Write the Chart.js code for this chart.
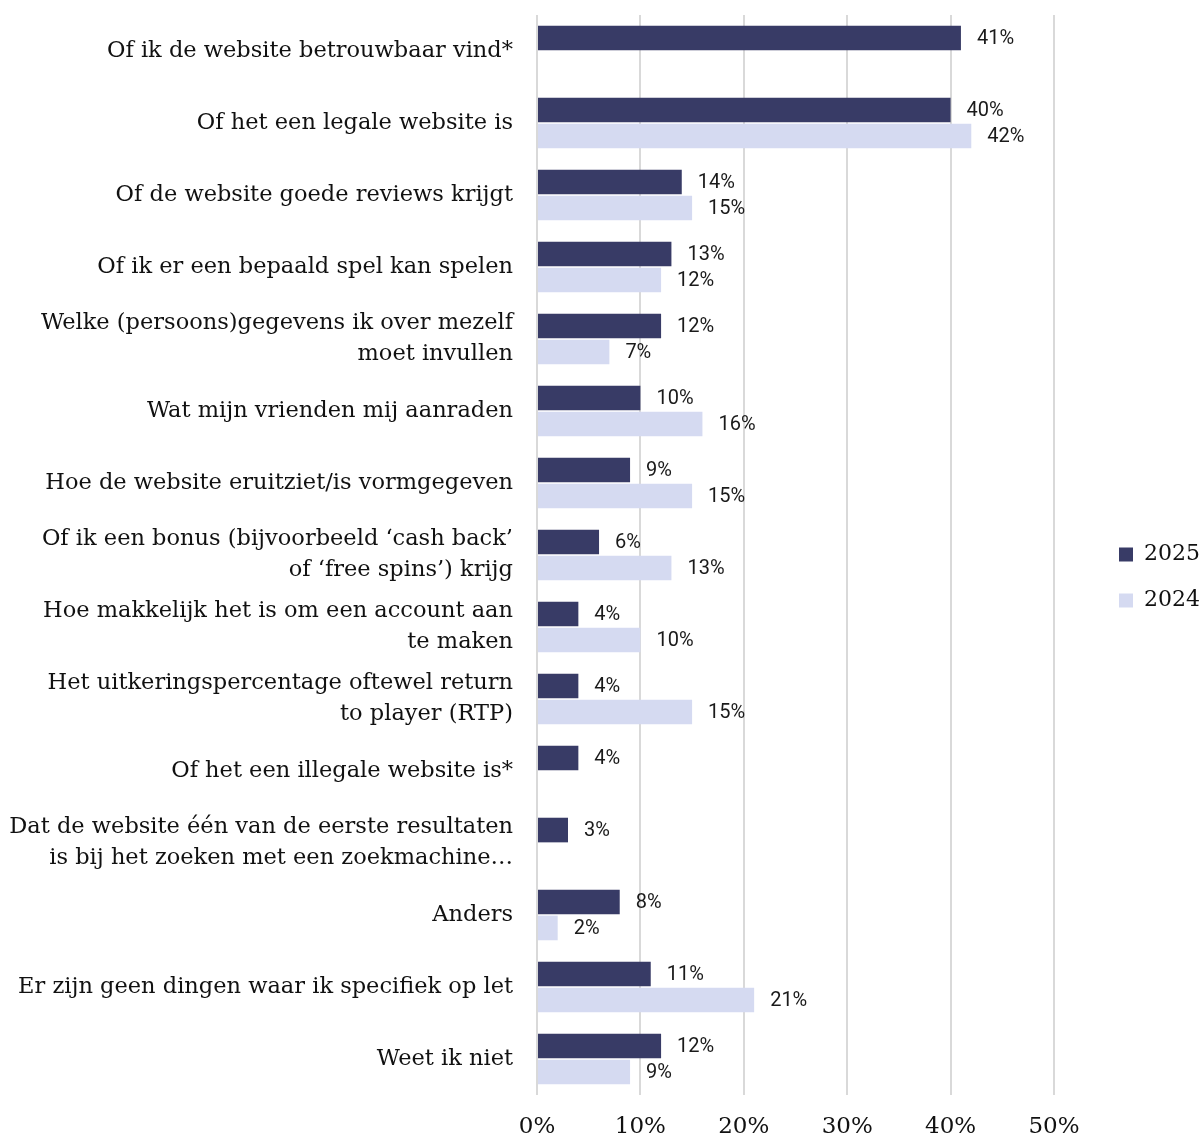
<!DOCTYPE html>
<html lang="nl">
<head>
<meta charset="utf-8">
<title>Waar let je op bij het kiezen van een website</title>
<script src="https://cdn.jsdelivr.net/npm/chart.js@4.4.1/dist/chart.umd.min.js"></script>
<style>
  html, body { margin: 0; padding: 0; background: #fff; }
  #wrap { width: 1204px; height: 1140px; position: relative; }
</style>
</head>
<body>
<div id="wrap"><canvas id="chart"></canvas></div>
<script>
// ── Data ─────────────────────────────────────────────────────────
const categories = [
  'Of ik de website betrouwbaar vind*',
  'Of het een legale website is',
  'Of de website goede reviews krijgt',
  'Of ik er een bepaald spel kan spelen',
  ['Welke (persoons)gegevens ik over mezelf', 'moet invullen'],
  'Wat mijn vrienden mij aanraden',
  'Hoe de website eruitziet/is vormgegeven',
  ['Of ik een bonus (bijvoorbeeld \u2018cash back\u2019', 'of \u2018free spins\u2019) krijg'],
  ['Hoe makkelijk het is om een account aan', 'te maken'],
  ['Het uitkeringspercentage oftewel return', 'to player (RTP)'],
  'Of het een illegale website is*',
  ['Dat de website één van de eerste resultaten', 'is bij het zoeken met een zoekmachine…'],
  'Anders',
  'Er zijn geen dingen waar ik specifiek op let',
  'Weet ik niet'
];
const values2025 = [41, 40, 14, 13, 12, 10, 9, 6, 4, 4, 4, 3, 8, 11, 12];
const values2024 = [null, 42, 15, 12, 7, 16, 15, 13, 10, 15, null, null, 2, 21, 9];
const xTicks = [0, 10, 20, 30, 40, 50];

const SERIF = '"DejaVu Serif", serif';

// ── Value labels next to each bar ───────────────────────────────
const barLabels = {
  id: 'barLabels',
  afterDatasetsDraw(chart) {
    const ctx = chart.ctx;
    ctx.save();
    ctx.font = '20px Roboto, sans-serif';
    ctx.fillStyle = '#1a1a1a';
    ctx.textAlign = 'left';
    ctx.textBaseline = 'middle';
    chart.data.datasets.forEach((ds, i) => {
      chart.getDatasetMeta(i).data.forEach((bar, j) => {
        const v = ds.data[j];
        if (v === null || v === undefined) return;
        ctx.fillText(v + '%', bar.x + 16, bar.y + 1);
      });
    });
    ctx.restore();
  }
};

// ── Push the legend out towards the right edge of the canvas ────
const legendShift = {
  id: 'legendShift',
  afterLayout(chart) {
    const lg = chart.legend;
    if (!lg) return;
    const dx = (chart.width - 109) - lg.left;
    lg.left += dx;
    lg.right += dx;
  }
};

new Chart(document.getElementById('chart'), {
  type: 'bar',
  data: {
    labels: categories,
    datasets: [
      {
        label: '2025',
        data: values2025,
        backgroundColor: '#383b66',
        barPercentage: 0.95,
        categoryPercentage: 0.72
      },
      {
        label: '2024',
        data: values2024,
        backgroundColor: '#d5daf1',
        barPercentage: 0.95,
        categoryPercentage: 0.72
      }
    ]
  },
  options: {
    indexAxis: 'y',
    responsive: true,
    maintainAspectRatio: false,
    animation: false,
    layout: { padding: { top: 15, right: 0, left: 4, bottom: 0 } },
    plugins: {
      legend: {
        position: 'right',
        maxWidth: 104,
        labels: {
          boxWidth: 14,
          boxHeight: 14,
          padding: 24,
          color: '#111',
          font: { family: SERIF, size: 22 }
        }
      },
      tooltip: { enabled: false }
    },
    scales: {
      x: {
        min: 0,
        max: 50,
        afterBuildTicks: s => { s.ticks = xTicks.map(v => ({ value: v })); },
        afterFit: s => {
          s.paddingRight = 150;
          s.height = 45;
        },
        grid: { color: '#d9d9d9', lineWidth: 2, drawTicks: false },
        border: { display: false },
        ticks: {
          padding: 21,
          color: '#111',
          font: { family: SERIF, size: 23, lineHeight: 1 },
          callback: v => v + '%'
        }
      },
      y: {
        grid: { display: false, drawTicks: false },
        border: { display: false },
        afterFit: s => {
          s.width = 533;
          s.paddingTop = 0;
          s.paddingBottom = 0;
        },
        ticks: {
          padding: 24,
          color: '#111',
          font: { family: SERIF, size: 22.5, lineHeight: 1.38 }
        }
      }
    }
  },
  plugins: [barLabels, legendShift]
});
</script>
</body>
</html>
